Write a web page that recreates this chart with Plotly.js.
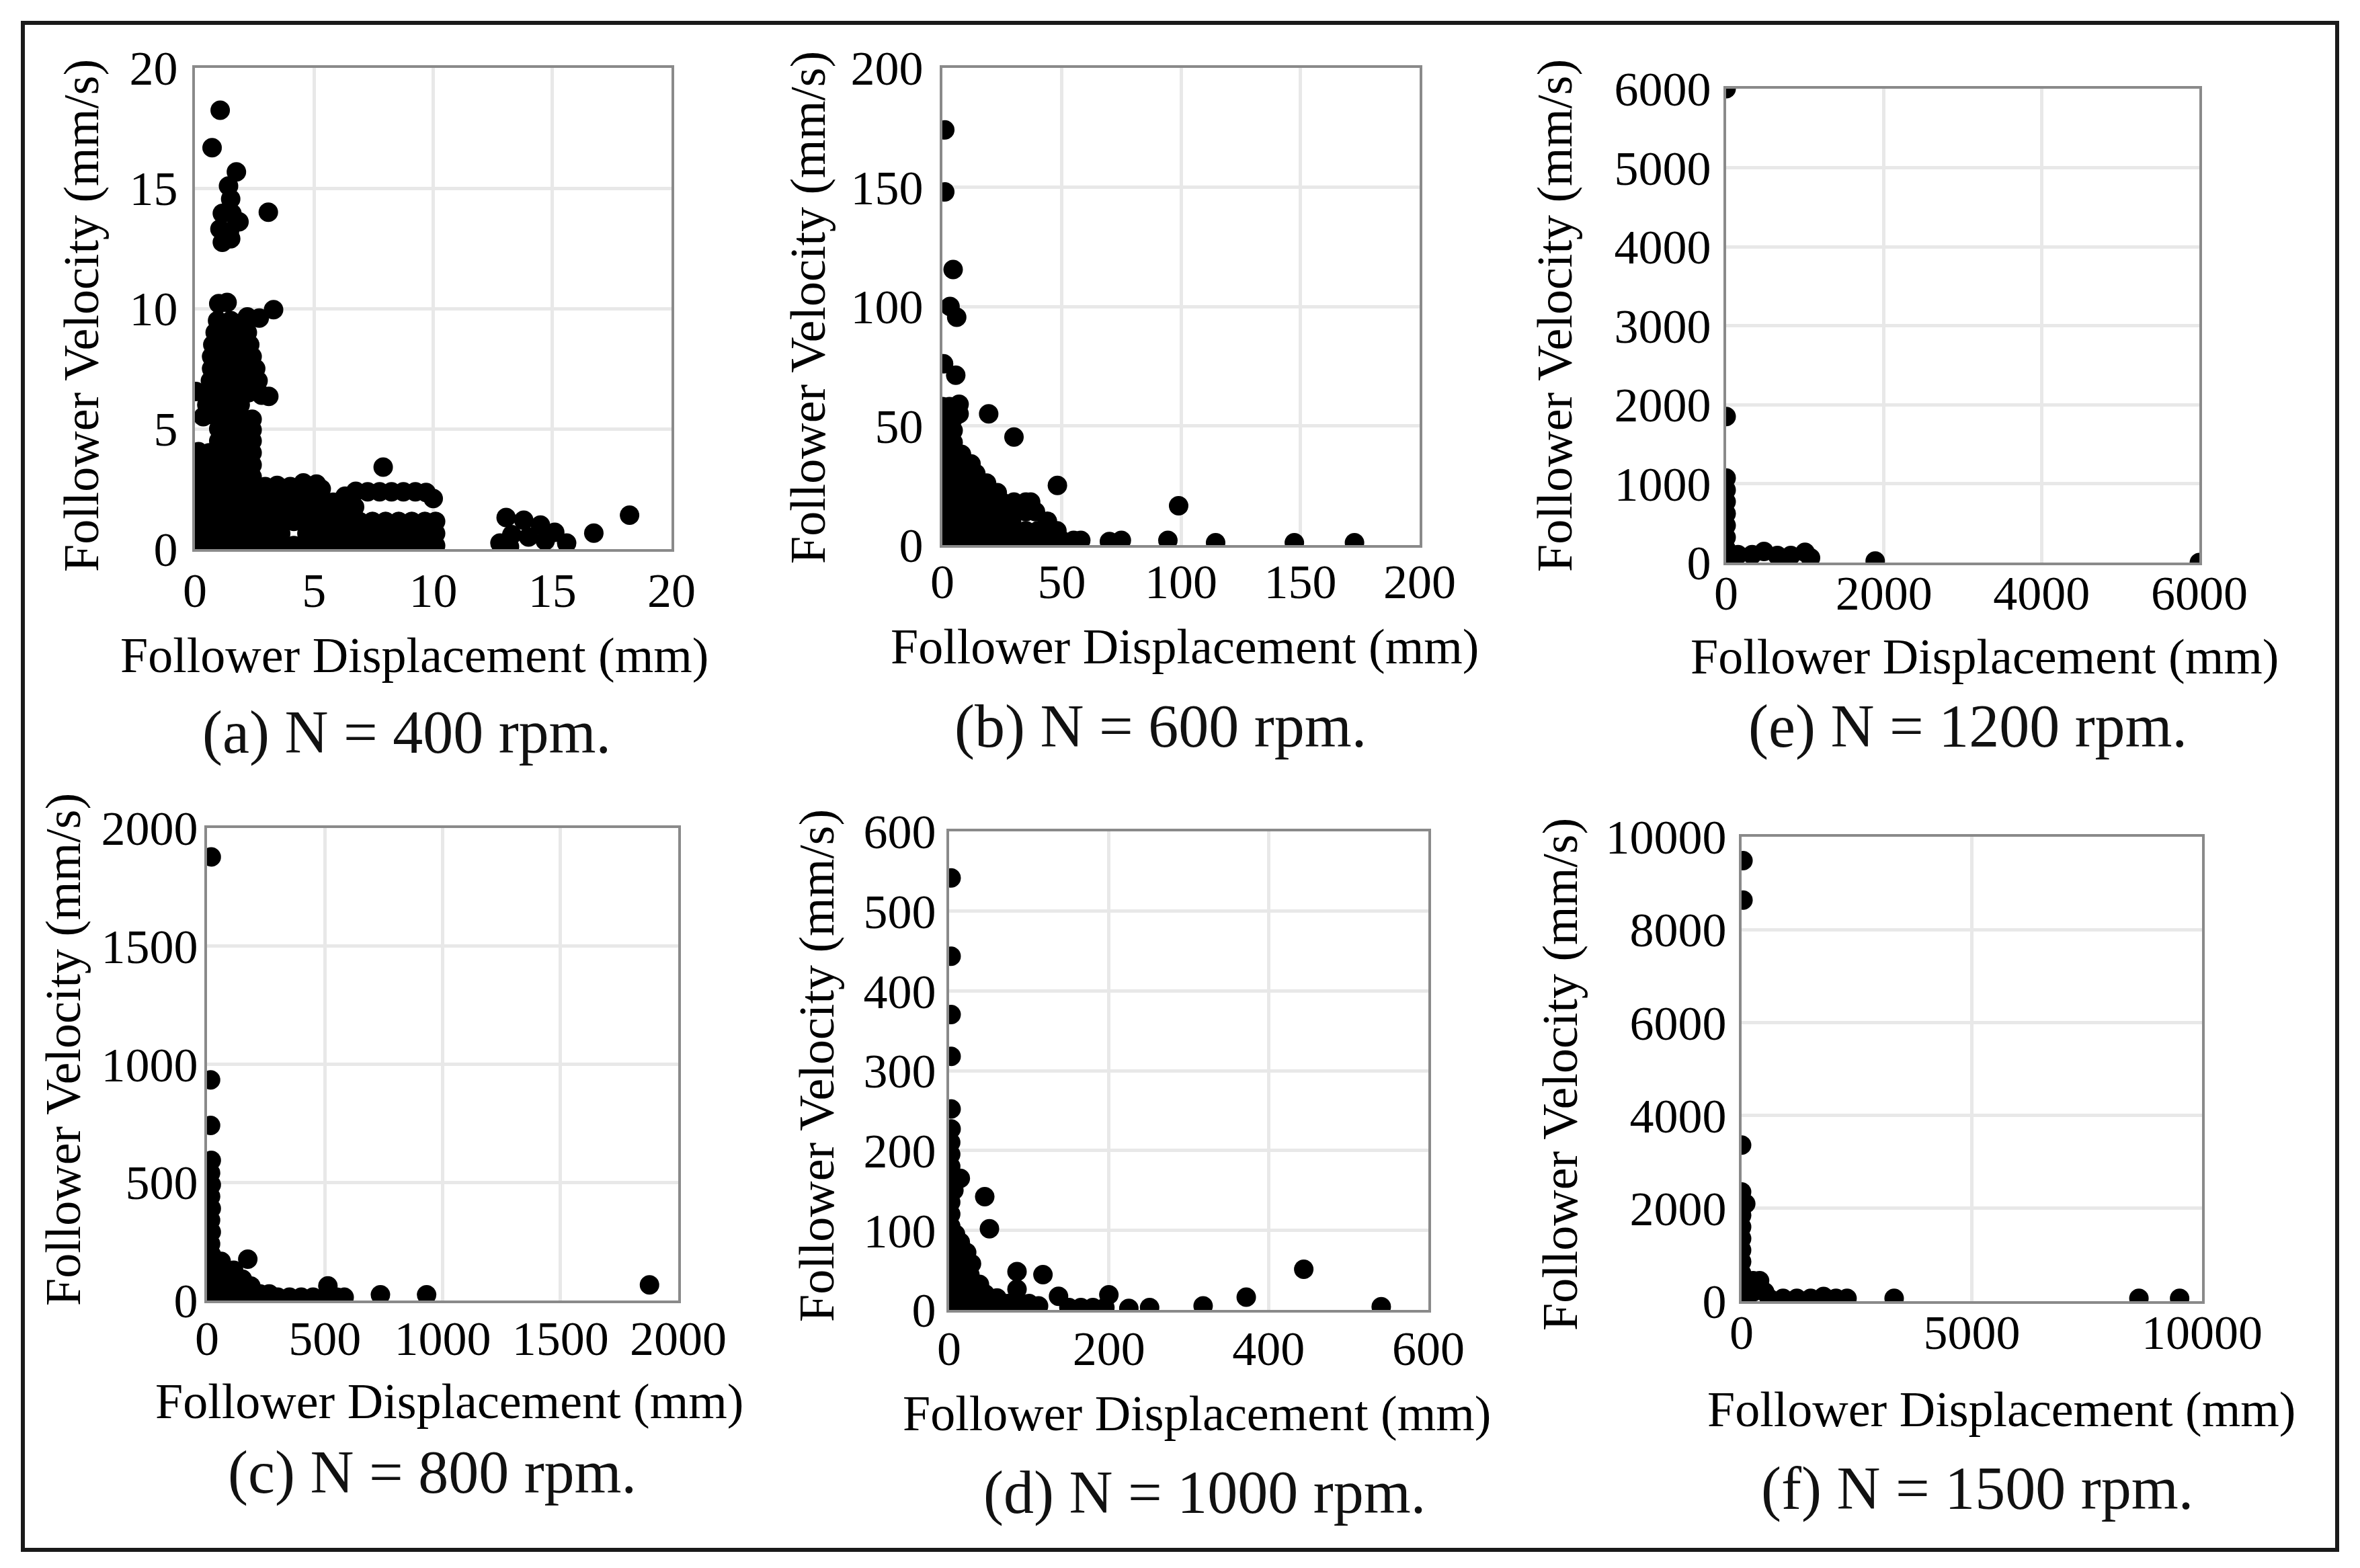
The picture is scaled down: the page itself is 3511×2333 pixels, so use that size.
<!DOCTYPE html>
<html>
<head>
<meta charset="utf-8">
<script src="https://cdn.plot.ly/plotly-3.0.1.min.js"></script>
<style>html,body{margin:0;padding:0;background:#fff;}#chart{width:3511px;height:2333px;}</style>
</head>
<body>
<div id="chart"></div>
<script>
// ---------- DATA ----------
// (a) N = 400 rpm
const a_x = [1.06,0.72,3.08,7.9,16.74,18.24,
 1.74,1.41,1.5,1.15,1.55,1.85,1.05,1.45,1.15,1.5,
 1.0,1.35,2.2,2.7,3.3,
 0.95,1.5,2.05,
 0.85,1.4,1.95,2.2,
 0.75,1.3,1.85,2.3,
 0.7,1.25,1.8,2.4,
 0.7,1.25,1.8,2.35,2.55,
 0.65,1.2,1.75,2.3,2.65,
 0.04,0.6,1.15,1.7,2.25,2.8,3.1,
 0.5,0.95,1.5,1.9,
 0.35,0.9,1.45,2.0,2.4,
 1.0,1.55,2.1,2.4,
 1.0,1.55,2.1,2.4,
 0.15,0.6,1.1,1.6,2.1,2.4,
 0.3,0.85,1.4,1.95,2.4,
 0.3,0.85,1.4,1.95,2.4,
 0.3,0.85,1.4,1.95,2.45,
 2.95,3.45,4.0,4.55,5.1,5.3,
 0.3,0.85,1.4,1.95,2.5,3.05,3.6,4.15,4.7,5.2,
 5.8,6.3,6.75,7.25,7.75,8.25,8.75,9.25,9.7,10.0,
 6.2,6.7,
 0.3,0.85,1.4,1.95,2.5,3.05,3.6,4.15,4.7,5.25,5.7,
 0.3,0.85,1.4,1.95,2.5,3.05,3.6,4.15,4.7,5.25,5.8,6.35,6.9,7.45,8.0,8.55,9.1,9.65,10.1,
 0.3,0.85,1.4,1.95,2.5,3.05,3.6,4.7,5.25,5.8,6.35,6.9,7.45,8.0,8.55,9.1,9.65,10.1,
 0.3,0.85,1.4,1.95,2.5,3.05,3.6,4.15,4.7,5.25,5.8,6.35,6.9,7.45,8.0,8.55,9.1,9.65,10.1,
 13.06,13.8,14.5,15.1,15.6,12.8,13.3,14.0,14.7,13.2];
const a_y = [18.24,16.68,14.0,3.41,0.66,1.41,
 15.68,15.09,14.55,13.95,13.95,13.6,13.3,13.2,12.75,12.9,
 10.2,10.25,9.65,9.6,9.95,
 9.5,9.5,9.45,
 9.0,9.0,9.0,9.0,
 8.5,8.5,8.5,8.5,
 8.0,8.0,8.0,8.0,
 7.5,7.5,7.5,7.5,7.5,
 7.0,7.0,7.0,7.0,7.0,
 6.55,6.5,6.5,6.5,6.5,6.4,6.35,
 6.0,6.0,6.0,6.0,
 5.5,5.5,5.5,5.45,5.4,
 5.0,5.0,5.0,4.95,
 4.5,4.5,4.5,4.5,
 4.05,4.0,4.0,4.1,4.0,4.0,
 3.5,3.5,3.5,3.5,3.5,
 3.0,3.0,3.0,3.0,3.0,
 2.6,2.6,2.6,2.6,2.6,
 2.6,2.65,2.6,2.75,2.7,2.5,
 2.2,2.2,2.2,2.2,2.2,2.15,2.15,2.15,2.2,2.2,
 1.95,2.2,2.4,2.38,2.38,2.38,2.38,2.38,2.35,2.1,
 1.65,1.75,
 1.7,1.7,1.7,1.7,1.7,1.7,1.7,1.7,1.7,1.7,1.6,
 1.15,1.15,1.15,1.15,1.15,1.15,1.15,1.15,1.15,1.15,1.15,1.15,1.15,1.15,1.15,1.15,1.15,1.15,1.15,
 0.65,0.65,0.65,0.65,0.65,0.65,0.65,0.65,0.65,0.65,0.65,0.65,0.65,0.65,0.65,0.65,0.65,0.65,
 0.15,0.15,0.15,0.15,0.15,0.15,0.15,0.15,0.15,0.15,0.15,0.15,0.15,0.15,0.15,0.15,0.15,0.15,0.15,
 1.31,1.2,1.0,0.7,0.25,0.25,0.6,0.5,0.35,0.1];

// (b) N = 600 rpm
const b_x = [1,1,4.5,3.2,6,0.5,5.6,7,7,19.4,30,48.2,99,70,75,94.5,114.5,147.5,172.7,
 0,3, 1,4.5, 1,4.5, 1,4.5, 1,5,8, 1,5.5,10,12, 1,5.5,10,14, 1,5.5,10,15,18.5,
 1,5.5,10,15,20,23, 1,5.5,10,15,20,25,30,35,37,
 1,5.5,10,15,20,25,30,35,39, 1,5.5,10,15,20,25,29,44,
 1,5.5,10,15,20,25,30,35,40,44,48,
 1,5.5,10,15,20,25,30,35,40,45,50,55,58];
const b_y = [174,148,115.5,100,95.5,76,71.2,59,55,55,45.3,25,16.5,1.5,2,2,1,1,1,
 58,58, 53,53, 48,48, 43,43, 38,38,38, 34,34,34,34, 30,30,30,30, 26,26,26,26,26,
 22,22,22,22,22,22, 18,18,18,18,18,18,18,18,18,
 14,14,14,14,14,14,14,14,14, 10,10,10,10,10,10,10,10,
 6,6,6,6,6,6,6,6,6,6,6,
 2,2,2,2,2,2,2,2,2,2,2,2,2];

// (e) N = 1200 rpm
const e_x = [0,6000,0,0,0,0,0,0,0,0,0,150,330,480,650,820,1000,1070,1890];
const e_y = [6000,0,1850,1070,920,770,620,470,320,170,40,100,100,140,90,90,130,60,20];

// (c) N = 800 rpm
const c_x = [18,15,15,18,15,18,15,18,15,18,15,18,15,15,15,15,
 60,113,173,60,105,150,186,60,105,150,225,264,60,105,150,195,240,300,350,400,450,513,500,550,582,736,932,1878];
const c_y = [1878,934,741,593,540,490,440,390,340,290,240,195,150,105,60,15,
 166,128,175,120,85,90,61,70,45,45,28,28,20,15,15,15,15,14,14,14,14,62,14,14,14,24,24,66];

// (d) N = 1000 rpm
const d_x = [2.5,2.5,2.5,2.5,2.5,2.5,2,2,2,2,2,2,2,2,2,2,2,2,2,2,2,
 14,6,8,14,12,22,14,28,14,26,14,26,38,14,26,38,45,60,14,26,38,50,62,74,86,100,112,
 44.6,50.5,85,117.5,85,137,150,165,180,195,200,225,251,318,372,444,541];
const d_y = [541.7,443.4,370.4,318,252,227,210,195,180,165,150,135,120,105,90,75,60,45,30,15,3,
 165,150,95,85,72,72,58,58,44,44,32,32,32,20,20,20,20,15,8,8,8,8,8,8,8,8,5,
 142,101.7,48,44.3,26,17,3,3,3,3,19,2,3,5,16,51,4];

// (f) N = 1500 rpm
const f_x = [30,30,0,0,0,0,0,0,0,0,0,0,0,90,250,390,250,500,600,900,1200,1500,1780,2050,2290,3313,8629,9513];
const f_y = [9485,8636,3361,2350,2100,1850,1600,1350,1100,850,600,350,100,2100,440,440,200,200,60,60,60,60,100,60,60,60,60,60];

// captions and axis titles
const captions = ["(a) N = 400 rpm.","(b) N = 600 rpm.","(e) N = 1200 rpm.","(c) N = 800 rpm.","(d) N = 1000 rpm.","(f) N = 1500 rpm."];
const xTitle = "Follower Displacement (mm)";
const yTitle = "Follower Velocity (mm/s)";
const ranges = [20,200,6000,2000,600,10000];
const xDtick = [5,50,2000,500,200,5000];
const yDtick = [5,50,1000,500,100,2000];

// ---------- LAYOUT ----------
const W = 3511, H = 2333;
// plot boxes in pixels: [left, right, top, bottom]
const boxes = [
  [290, 999, 101, 817],
  [1402, 2112, 101, 811],
  [2568, 3272, 132, 837],
  [308, 1009, 1232, 1935],
  [1412, 2125, 1237, 1949],
  [2591, 3276, 1245, 1936]
];
const xStand = [-4, -11, -20, -9, -8, -19];
const yStand = [7, 10, 4, -5, 1, 4];
const capPos = [[605,1090],[1726,1081],[2927,1081],[643,2191],[1792,2221],[2941,2215]];
const xtPos = [[616,975],[1762,962],[2952,977],[668,2085],[1781,2103],[2977,2097]];
const ytPos = [[121,470],[1202,458],[2313,470],[94,1562],[1215,1586],[2321,1599]];

const FONT = "Liberation Serif, Times New Roman, serif";
const xs = [a_x,b_x,e_x,c_x,d_x,f_x];
const ys = [a_y,b_y,e_y,c_y,d_y,f_y];

const data = [];
const layout = {
  width: W, height: H,
  margin: {l:0, r:0, t:0, b:0},
  paper_bgcolor: '#fff', plot_bgcolor: '#fff',
  showlegend: false,
  font: {family: FONT, color: '#000', size: 72},
  annotations: [],
  shapes: [{type:'rect', xref:'paper', yref:'paper', x0:34/W, x1:3477/W, y0:1-2306/H, y1:1-34/H,
            line:{color:'#1a1a1a', width:6}, fillcolor:'rgba(0,0,0,0)'}]
};

for (let i = 0; i < 6; i++) {
  const n = i === 0 ? '' : String(i + 1);
  const b = boxes[i];
  data.push({
    type: 'scatter', mode: 'markers',
    x: xs[i], y: ys[i],
    xaxis: 'x' + n, yaxis: 'y' + n,
    marker: {color: '#000', size: 29, line: {width: 0}},
    hoverinfo: 'skip'
  });
  const common = {
    range: [0, ranges[i]], showgrid: true, gridcolor: '#e8e8e8', gridwidth: 5,
    zeroline: false, showline: true, linecolor: '#8a8a8a', linewidth: 4, mirror: true,
    ticks: '', tickformat: 'd', tickfont: {family: FONT, size: 72, color: '#000'},
    fixedrange: true
  };
  layout['xaxis' + n] = Object.assign({}, common, {
    domain: [b[0]/W, b[1]/W], anchor: 'y' + n, dtick: xDtick[i], tick0: 0,
    ticklabelstandoff: xStand[i]
  });
  layout['yaxis' + n] = Object.assign({}, common, {
    domain: [1 - b[3]/H, 1 - b[2]/H], anchor: 'x' + n, dtick: yDtick[i], tick0: 0,
    ticklabelstandoff: yStand[i]
  });
  layout.annotations.push({xref:'paper', yref:'paper', x: capPos[i][0]/W, y: 1 - capPos[i][1]/H,
    xanchor:'center', yanchor:'middle', showarrow:false, text: captions[i],
    font:{family: FONT, size: 90, color:'#111'}});
  layout.annotations.push({xref:'paper', yref:'paper', x: xtPos[i][0]/W, y: 1 - xtPos[i][1]/H,
    xanchor:'center', yanchor:'middle', showarrow:false, text: xTitle,
    font:{family: FONT, size: 74, color:'#000'}});
  layout.annotations.push({xref:'paper', yref:'paper', x: ytPos[i][0]/W, y: 1 - ytPos[i][1]/H,
    xanchor:'center', yanchor:'middle', showarrow:false, text: yTitle, textangle: -90,
    font:{family: FONT, size: 74, color:'#000'}});
}

Plotly.newPlot('chart', data, layout, {staticPlot: true, displayModeBar: false});
</script>
</body>
</html>
